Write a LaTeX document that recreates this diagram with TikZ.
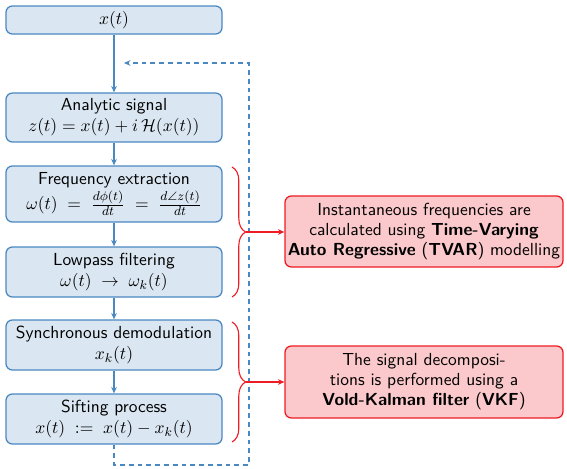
\documentclass[tikz,border=0pt]{standalone}
\usepackage{amsmath,amssymb}
\usetikzlibrary{arrows.meta,decorations.pathreplacing}
\definecolor{bfill}{HTML}{DAE6F1}
\definecolor{bline}{HTML}{4A88C2}
\definecolor{rfill}{HTML}{FBC9CB}
\definecolor{rline}{HTML}{EE1C24}
\begin{document}
\begin{tikzpicture}[x=0.625pt,y=-0.625pt,font=\fontsize{10.9}{12.5}\selectfont\sffamily,
  bbox/.style={draw=bline,fill=bfill,line width=0.8pt,rounded corners=4pt,minimum width=135pt,align=center,inner sep=1pt},
  rbox/.style={draw=rline,fill=rfill,line width=0.8pt,rounded corners=4pt,minimum width=173.75pt,align=center,inner sep=1pt},
  barr/.style={draw=bline,line width=0.7pt,-{Stealth[length=4pt,width=3.5pt]}},
  dashline/.style={draw=bline,line width=0.7pt,dash pattern=on 3pt off 2.5pt},
  rarr/.style={draw=rline,line width=0.8pt,-{Stealth[length=4pt,width=3.5pt]}},
  rbrace/.style={draw=rline,line width=0.7pt,decorate,decoration={brace,amplitude=8.5pt}}]
\useasboundingbox (0,0) rectangle (567,468);
\node[bbox,minimum height=17.5pt] (x) at (114,20) {$x(t)$};
\node[bbox,minimum height=30.6pt] (a) at (114,117.5) {Analytic signal\\[0.5pt]$z(t) = x(t) + i\,\mathcal{H}(x(t))$};
\node[bbox,minimum height=35pt] (f) at (114,194) {Frequency extraction\\[1pt]$\omega(t) \;=\; \frac{d\phi(t)}{dt} \;=\; \frac{d\angle z(t)}{dt}$};
\node[bbox,minimum height=31.25pt] (l) at (114,272) {Lowpass filtering\\[0.5pt]$\omega(t) \;\to\; \omega_k(t)$};
\node[bbox,minimum height=31.25pt] (s) at (114,345) {Synchronous demodulation\\[0.5pt]$x_k(t)$};
\node[bbox,minimum height=31.25pt] (p) at (114,419) {Sifting process\\[0.5pt]$x(t) \;:=\; x(t) - x_k(t)$};
\node[rbox,minimum height=44.4pt] (r1) at (424,231.5) {Instantaneous frequencies are\\calculated using \textbf{Time-Varying}\\\textbf{Auto Regressive} (\textbf{TVAR}) modelling};
\node[rbox,minimum height=45pt] (r2) at (424,382) {The signal decomposi-\\tions is performed using a\\\textbf{Vold-Kalman filter} (\textbf{VKF})};
\coordinate (d1) at (114,465);
\coordinate (d2) at (249,465);
\coordinate (d3) at (249,63);
\coordinate (d4) at (124,63);
\draw[dashline,-{Stealth[length=4pt,width=3.5pt]}] (p.south) -- (d1) -- (d2) -- (d3) -- (d4);
\draw[barr] (x) -- (a);
\draw[barr] (a) -- (f);
\draw[barr] (f) -- (l);
\draw[barr] (l) -- (s);
\draw[barr] (s) -- (p);
\coordinate (b1t) at (232,167);
\coordinate (b1b) at (232,297);
\coordinate (b1m) at (246,232);
\coordinate (b2t) at (232,322);
\coordinate (b2b) at (232,442);
\coordinate (b2m) at (246,382);
\draw[rbrace] (b1t) -- (b1b);
\draw[rbrace] (b2t) -- (b2b);
\draw[rarr] (b1m) -- (r1.west |- b1m);
\draw[rarr] (b2m) -- (r2.west |- b2m);
\end{tikzpicture}
\end{document}
